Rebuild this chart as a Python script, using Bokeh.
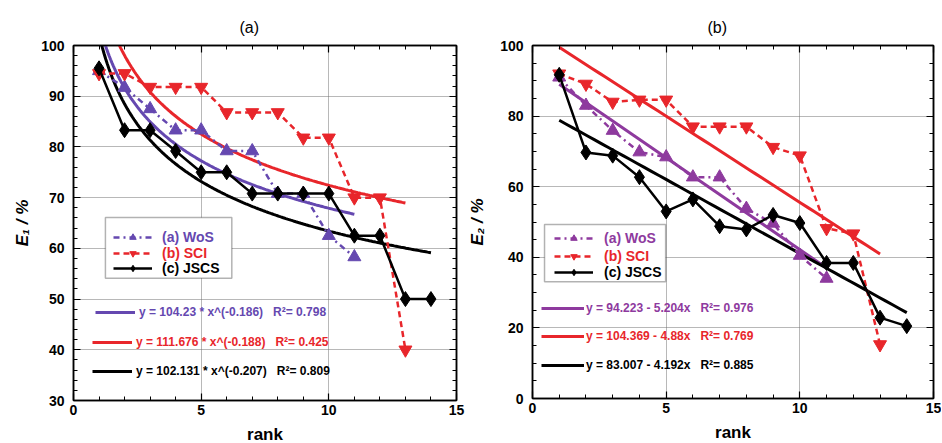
import numpy as np
from bokeh.plotting import figure
from bokeh.models import (Range1d, LinearAxis, SingleIntervalTicker, Legend, LegendItem,
                          BoxAnnotation, Grid, CustomLabelingPolicy)
from bokeh.layouts import row
from bokeh.embed import file_html
from bokeh.resources import INLINE

# ---------------- data ----------------
rank_wos = [1, 2, 3, 4, 5, 6, 7, 8, 9, 10, 11]
rank_sci = [1, 2, 3, 4, 5, 6, 7, 8, 9, 10, 11, 12, 13]
rank_jscs = [1, 2, 3, 4, 5, 6, 7, 8, 9, 10, 11, 12, 13, 14]

# panel (a): E1 / %
e1_wos = [95.0, 91.7, 87.5, 83.3, 83.3, 79.2, 79.2, 70.8, 70.8, 62.5, 58.3]
e1_sci = [94.5, 94.5, 91.8, 91.8, 91.8, 86.8, 86.8, 86.8, 81.8, 81.8, 70.0, 70.0, 40.0]
e1_jscs = [95.5, 83.3, 83.3, 79.2, 75.0, 75.0, 70.8, 70.8, 70.8, 70.8, 62.5, 62.5, 50.0, 50.0]

# panel (b): E2 / %
e2_wos = [91.0, 83.0, 75.9, 69.8, 68.4, 62.7, 62.7, 53.8, 49.6, 40.5, 34.0]
e2_sci = [92.0, 89.1, 84.0, 84.6, 84.6, 77.0, 77.0, 77.0, 71.2, 68.8, 48.2, 46.7, 15.3]
e2_jscs = [91.7, 69.7, 68.8, 62.7, 53.0, 56.4, 48.8, 47.9, 52.0, 49.7, 38.4, 38.4, 22.9, 20.5]

# fitted models printed on the chart
pow_a = [104.23, 111.676, 102.131]
pow_b = [-0.186, -0.188, -0.207]
lin_a = [94.223, 104.369, 83.007]
lin_b = [-5.204, -4.88, -4.192]

panel_titles = ["(a)", "(b)"]
series_labels = ["(a) WoS", "(b) SCI", "(c) JSCS"]
eq_left = ["y = 104.23 * x^(-0.186)   R\u00b2= 0.798",
           "y = 111.676 * x^(-0.188)   R\u00b2= 0.425",
           "y = 102.131 * x^(-0.207)   R\u00b2= 0.809"]
eq_right = ["y = 94.223 - 5.204x   R\u00b2= 0.976",
            "y = 104.369 - 4.88x   R\u00b2= 0.769",
            "y = 83.007 - 4.192x   R\u00b2= 0.885"]

FONT = "Liberation Sans"
PURPLE_A = "#6548b0"
PURPLE_B = "#8e3a9e"
RED = "#e8262b"
BLACK = "#000000"

NO_LABELS = ("for (let i = 0; i < indices.size; i++) {"
             " try { indices.unset(i) } catch (e) { indices.set(i, false) } }"
             " return indices")


def style_axis(ax, show):
    ax.major_tick_in = 7
    ax.major_tick_out = 0
    ax.minor_tick_in = 4
    ax.minor_tick_out = 0
    ax.axis_line_color = "black"
    ax.axis_line_width = 1.5
    ax.major_tick_line_width = 1.2
    ax.minor_tick_line_width = 1.0
    ax.major_label_text_font = FONT
    ax.major_label_text_font_size = "14px"
    ax.major_label_text_font_style = "bold"
    ax.major_label_text_color = "black"
    ax.axis_label_text_font = FONT
    ax.axis_label_text_font_size = "17px"
    ax.axis_label_text_font_style = "bold"
    ax.axis_label_text_color = "black"
    if not show:
        ax.major_label_policy = CustomLabelingPolicy(code=NO_LABELS)
        ax.major_label_text_font_size = "0px"
        ax.major_label_standoff = 0


def make_fig(title, ylabel, y0, y1, ymaj, ymin_n, fw, fh, bl, bt, br, bb, tick_sd, lab_sd,
             title_off):
    p = figure(frame_width=fw, frame_height=fh, x_range=Range1d(0, 15), y_range=Range1d(y0, y1),
               x_axis_type=None, y_axis_type=None, output_backend="svg", toolbar_location=None,
               min_border_left=bl, min_border_top=bt, min_border_right=br, min_border_bottom=bb)
    xt = SingleIntervalTicker(interval=5, num_minor_ticks=5)
    yt = SingleIntervalTicker(interval=ymaj, num_minor_ticks=ymin_n)
    xb = LinearAxis(ticker=xt, axis_label="rank")
    style_axis(xb, True)
    xb.major_label_standoff = 4
    xb.axis_label_standoff = 7
    yl = LinearAxis(ticker=yt, axis_label=ylabel)
    style_axis(yl, True)
    yl.major_label_standoff = tick_sd
    yl.axis_label_standoff = lab_sd
    yl.axis_label_text_font_style = "bold italic"
    xa = LinearAxis(ticker=xt)
    style_axis(xa, False)
    yr = LinearAxis(ticker=yt)
    style_axis(yr, False)
    p.add_layout(xb, "below")
    p.add_layout(yl, "left")
    p.add_layout(xa, "above")
    p.add_layout(yr, "right")
    for dim, tk in ((0, xt), (1, yt)):
        g = Grid(dimension=dim, ticker=tk, grid_line_color="#707070", grid_line_dash="1 1",
                 grid_line_width=1)
        p.add_layout(g)
    p.outline_line_color = "black"
    p.outline_line_width = 1.5
    p.title.text = title
    p.title.align = "left"
    p.title.offset = title_off
    p.title.standoff = 19
    p.title.text_font = FONT
    p.title.text_font_size = "16px"
    p.title.text_font_style = "normal"
    p.title.text_color = "black"
    p.background_fill_color = "white"
    p.border_fill_color = "white"
    return p


def add_series(p, xs, ys, color, dash, marker, msize):
    l = p.line(xs, ys, line_color=color, line_width=2.5, line_dash=dash)
    s = p.scatter(xs, ys, marker=marker, size=msize, fill_color=color, line_color=color)
    return [l, s]


def add_legend(p, label, rends, color, loc, gw, gh, sd, fs):
    lg = Legend(items=[LegendItem(label=label, renderers=rends)], location=loc,
                padding=0, margin=0, spacing=0, glyph_width=gw, glyph_height=gh,
                label_standoff=sd, label_height=gh,
                label_text_font=FONT, label_text_font_size=fs, label_text_font_style="bold",
                label_text_color=color, border_line_alpha=0, background_fill_alpha=0)
    p.add_layout(lg)


# ---------------- panel (a) ----------------
pa = make_fig(panel_titles[0], "E\u2081 / %", 30, 100, 10, 5, 383, 355, 73, 44, 9, 10, 9, 6, 166)
cols_a = [PURPLE_A, RED, BLACK]
ranks = [rank_wos, rank_sci, rank_jscs]
fits_a = []
for i in range(3):
    xf = np.linspace(1, ranks[i][-1], 200)
    fits_a.append(pa.line(xf, pow_a[i] * xf ** pow_b[i], line_color=cols_a[i], line_width=3))
ra = [add_series(pa, rank_wos, e1_wos, PURPLE_A, "6 4 2 4", "triangle", 13),
      add_series(pa, rank_sci, e1_sci, RED, "6 4", "inverted_triangle", 13),
      add_series(pa, rank_jscs, e1_jscs, BLACK, "solid", "diamond", 15)]
pa.add_layout(BoxAnnotation(left=1.25, right=6.2, bottom=54.1, top=66.1, fill_color="white",
                            fill_alpha=1, line_color="black", line_width=1.5))
for i, (loc) in enumerate([(40, 155), (40, 139), (40, 124)]):
    add_legend(pa, series_labels[i], ra[i], cols_a[i], loc, 39, 16, 10, "14px")
for i, loc in enumerate([(22, 80), (19, 50), (19, 21)]):
    add_legend(pa, eq_left[i], [fits_a[i]], cols_a[i], loc, 40, 16, 4, "12px")

# ---------------- panel (b) ----------------
pb = make_fig(panel_titles[1], "E\u2082 / %", 0, 100, 20, 4, 401, 353, 66, 45, 8, 10, 9, 10, 175)
cols_b = [PURPLE_B, RED, BLACK]
fits_b = []
for i in range(3):
    xf = np.linspace(1, ranks[i][-1], 50)
    fits_b.append(pb.line(xf, lin_a[i] + lin_b[i] * xf, line_color=cols_b[i], line_width=3))
rb = [add_series(pb, rank_wos, e2_wos, PURPLE_B, "6 4 2 4", "triangle", 13),
      add_series(pb, rank_sci, e2_sci, RED, "6 4", "inverted_triangle", 13),
      add_series(pb, rank_jscs, e2_jscs, BLACK, "solid", "diamond", 15)]
pb.add_layout(BoxAnnotation(left=0.45, right=4.98, bottom=33.1, top=49.3, fill_color="white",
                            fill_alpha=1, line_color="black", line_width=1.5))
for i, loc in enumerate([(22, 152), (22, 134), (22, 118)]):
    add_legend(pb, series_labels[i], rb[i], cols_b[i], loc, 39, 16, 11, "14px")
for i, loc in enumerate([(9, 82), (9, 54), (9, 25)]):
    add_legend(pb, eq_right[i], [fits_b[i]], cols_b[i], loc, 43, 16, 2, "12px")

layout = row(pa, pb)
open("out.html", "w").write(file_html(layout, INLINE))
